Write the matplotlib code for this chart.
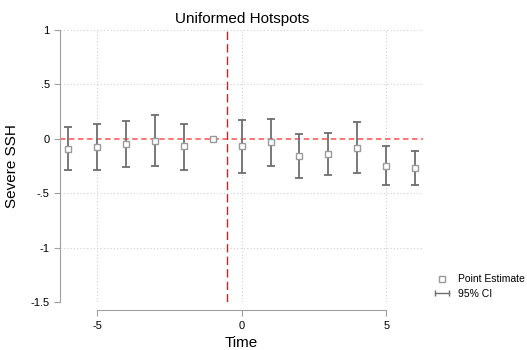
import numpy as np
import matplotlib
matplotlib.use('Agg')
import matplotlib.pyplot as plt
from matplotlib.lines import Line2D
from matplotlib.legend_handler import HandlerLine2D

plt.rcParams['font.family'] = ['Liberation Sans', 'DejaVu Sans']
plt.rcParams['axes.unicode_minus'] = False

# datos
tiempo = [-6, -5, -4, -3, -2, -1, 0, 1, 2, 3, 4, 5, 6]
estim = [-0.092, -0.074, -0.049, -0.015, -0.070, 0.0, -0.068, -0.028, -0.156, -0.135, -0.080, -0.245, -0.264]
ci_sup = [0.107, 0.135, 0.163, 0.218, 0.138, np.nan, 0.175, 0.187, 0.043, 0.058, 0.153, -0.068, -0.107]
ci_inf = [-0.290, -0.285, -0.257, -0.248, -0.288, np.nan, -0.310, -0.245, -0.358, -0.331, -0.316, -0.426, -0.426]
yticks = [-1.5, -1, -0.5, 0, 0.5, 1]
ylabels = ['-1.5', '-1', '-.5', '0', '.5', '1']
xticks = [-5, 0, 5]

t = np.array(tiempo)
e = np.array(estim)
lo = np.array(ci_inf)
hi = np.array(ci_sup)

fig = plt.figure(figsize=(5.27, 3.5), dpi=100)
ax = fig.add_axes([0.114, 0.137, 0.689, 0.777])

# grilla punteada
for yy in yticks:
    if yy != 0:
        ax.axhline(yy, color='#d0d0d0', lw=0.8, ls=(0, (1, 2)), zorder=0)
for xx in xticks:
    ax.axvline(xx, color='#d0d0d0', lw=0.8, ls=(0, (1, 2)), zorder=0)

ax.axhline(0, color='#ff6b6b', lw=1.3, ls=(0, (3, 2)), zorder=1)
ax.axvline(-0.5, color='#c4262b', lw=1.0, ls=(0, (6, 3)), zorder=1)

ax.errorbar(t, e, yerr=[e - lo, hi - e], fmt='none', ecolor='#6e6e6e',
            elinewidth=1.3, capsize=3, capthick=1.3, zorder=2)
ax.plot(t, e, 's', ms=5, mfc='white', mec='#9a9a9a', mew=1.0, zorder=3)

ax.set_xlim(-6.28, 6.28)
ax.set_ylim(-1.5, 1)
ax.set_yticks(yticks)
ax.set_yticklabels(ylabels)
ax.set_xticks(xticks)

for s in ['top', 'right']:
    ax.spines[s].set_visible(False)
ax.spines['left'].set_bounds(-1.5, 1)
ax.spines['bottom'].set_bounds(-5, 5)
ax.spines['bottom'].set_position(('outward', 6))
ax.spines['left'].set_color('#a0a0a0')
ax.spines['bottom'].set_color('#a0a0a0')
ax.tick_params(axis='both', colors='#a0a0a0', labelcolor='black', labelsize=8, length=4, width=0.8)

ax.set_title('Uniformed Hotspots', fontsize=11, pad=5)
ax.set_ylabel('Severe SSH', fontsize=11, labelpad=8)
ax.set_xlabel('Time', fontsize=11, labelpad=4)

h1 = Line2D([], [], ls='none', marker='s', ms=5, mfc='white', mec='#9a9a9a', mew=1.0)
h2 = Line2D([], [], color='#6e6e6e', lw=1.0, marker='|', ms=5, mew=1.0)
fig.legend([h1, h2], ['Point Estimate', '95% CI'],
           handler_map={h1: HandlerLine2D(numpoints=1), h2: HandlerLine2D(numpoints=2)},
           loc='upper left', bbox_to_anchor=(0.802, 0.243), frameon=False,
           fontsize=7.5, handlelength=1.9, handletextpad=0.6, labelspacing=0.45)

fig.savefig('out.png', dpi=100)
